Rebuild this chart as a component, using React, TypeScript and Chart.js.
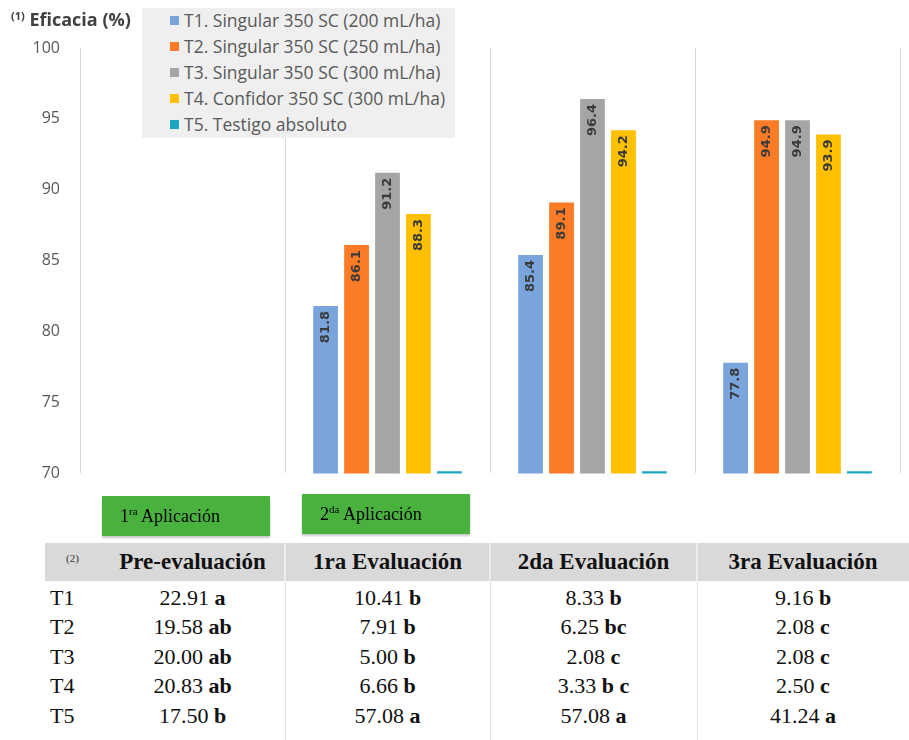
import React, { useEffect, useRef } from "react";
import { Chart, registerables } from "chart.js";

Chart.register(...registerables);

const categories = ["Pre-evaluación", "1ra Evaluación", "2da Evaluación", "3ra Evaluación"];
const seriesLabels = [
  "T1. Singular 350 SC (200 mL/ha)",
  "T2. Singular 350 SC (250 mL/ha)",
  "T3. Singular 350 SC (300 mL/ha)",
  "T4. Confidor 350 SC (300 mL/ha)",
  "T5. Testigo absoluto",
];
const seriesColors = ["#7aa5dc", "#fb7b26", "#a5a5a5", "#ffc000", "#1aa5c0"];
const t1 = [null, 81.8, 85.4, 77.8];
const t2 = [null, 86.1, 89.1, 94.9];
const t3 = [null, 91.2, 96.4, 94.9];
const t4 = [null, 88.3, 94.2, 93.9];
const t5 = [null, 70.15, 70.15, 70.15];
const showLabels = [true, true, true, true, false];
const yTicks = [70, 75, 80, 85, 90, 95, 100];

const applications = ["ra", "da"];
const tableRowLabels = ["T1", "T2", "T3", "T4", "T5"];
const preNums = [22.91, 19.58, 20.0, 20.83, 17.5];
const preLetters = ["a", "ab", "ab", "ab", "b"];
const ev1Nums = [10.41, 7.91, 5.0, 6.66, 57.08];
const ev1Letters = ["b", "b", "b", "b", "a"];
const ev2Nums = [8.33, 6.25, 2.08, 3.33, 57.08];
const ev2Letters = ["b", "bc", "c", "b c", "a"];
const ev3Nums = [9.16, 2.08, 2.08, 2.5, 41.24];
const ev3Letters = ["b", "c", "c", "c", "a"];

const tableCols = [
  { nums: preNums, letters: preLetters },
  { nums: ev1Nums, letters: ev1Letters },
  { nums: ev2Nums, letters: ev2Letters },
  { nums: ev3Nums, letters: ev3Letters },
];

const colEdges = [45, 100, 285, 490, 697, 909];

const labelPlugin = {
  id: "vlabels",
  afterDatasetsDraw(chart: any) {
    const ctx = chart.ctx;
    chart.data.datasets.forEach((ds: any, di: number) => {
      if (!showLabels[di]) return;
      const meta = chart.getDatasetMeta(di);
      meta.data.forEach((bar: any, i: number) => {
        const v = ds.data[i];
        if (v == null) return;
        ctx.save();
        ctx.translate(bar.x, bar.y + 5);
        ctx.rotate(-Math.PI / 2);
        ctx.textAlign = "right";
        ctx.textBaseline = "middle";
        ctx.font = 'bold 13px "DejaVu Sans"';
        ctx.fillStyle = "#3a3a3a";
        ctx.fillText(v.toFixed(1), 0, 0);
        ctx.restore();
      });
    });
  },
};

export default function App() {
  const ref = useRef<HTMLCanvasElement | null>(null);
  useEffect(() => {
    if (!ref.current) return;
    const values = [t1, t2, t3, t4, t5];
    const chart = new Chart(ref.current, {
      type: "bar",
      data: {
        labels: categories,
        datasets: values.map((d, i) => ({
          label: seriesLabels[i],
          data: d,
          backgroundColor: seriesColors[i],
          categoryPercentage: 0.755,
          barPercentage: 0.8,
        })),
      },
      options: {
        responsive: false,
        animation: false,
        layout: { padding: { top: 48, right: 9, bottom: 18, left: 0 } },
        plugins: { legend: { display: false }, tooltip: { enabled: false } },
        scales: {
          x: {
            offset: true,
            grid: { display: true, offset: true, color: "#d9d9d9", drawTicks: false },
            ticks: { display: false },
            border: { display: false },
            afterFit: (s: any) => {
              s.height = 0;
            },
          },
          y: {
            min: 70,
            max: 100,
            afterBuildTicks: (s: any) => {
              s.ticks = yTicks.map((v) => ({ value: v }));
            },
            afterFit: (s: any) => {
              s.width = 80;
            },
            grid: { display: false, drawTicks: false },
            border: { display: false },
            ticks: {
              color: "#595959",
              padding: 20,
              font: { family: "Open Sans", size: 16 },
            },
          },
        },
      },
      plugins: [labelPlugin],
    });
    return () => chart.destroy();
  }, []);

  const serif = '"Liberation Serif", "Times New Roman", serif';

  return (
    <div style={{ position: "absolute", left: 0, top: 0, width: 909, height: 740, background: "#fff", overflow: "hidden" }}>
      <canvas ref={ref} width={909} height={503} style={{ position: "absolute", left: 0, top: 0, width: 909, height: 503 }} />
      {/* Title */}
      <div style={{ position: "absolute", left: 11, top: 7, fontFamily: "Open Sans", fontWeight: 700, fontSize: 18, color: "#404040", whiteSpace: "nowrap" }}>
        <span style={{ fontSize: 11, position: "relative", top: -6 }}>(1)</span> Eficacia (%)
      </div>
      {/* Legend */}
      <div style={{ position: "absolute", left: 142, top: 8, width: 313, height: 130, background: "#efefef" }}>
        {seriesLabels.map((l, i) => (
          <div key={l} style={{ position: "absolute", left: 28, top: 0 + i * 26, height: 24, display: "flex", alignItems: "center", whiteSpace: "nowrap", fontFamily: "Open Sans", fontSize: 17.5, color: "#595959" }}>
            <span style={{ display: "inline-block", width: 9, height: 9, background: seriesColors[i], marginRight: 5 }} />
            {l}
          </div>
        ))}
      </div>
      {/* Application boxes */}
      {applications.map((sup, i) => (
        <div key={sup} style={{ position: "absolute", left: 102 + i * 200, top: 496 - i * 2, width: 168, height: 40, background: "#49b23f", boxShadow: "0 2px 2px #c8c8c8", fontFamily: serif, fontSize: 18, color: "#000", display: "flex", alignItems: "center", paddingLeft: 18, boxSizing: "border-box", whiteSpace: "nowrap" }}>
          <span>
            {i + 1}
            <sup style={{ fontSize: 11 }}>{sup}</sup> Aplicación
          </span>
        </div>
      ))}
      {/* Table header */}
      <div style={{ position: "absolute", left: colEdges[0], top: 543, width: colEdges[5] - colEdges[0], height: 38, background: "#d9d9d9" }} />
      {[2, 3, 4].map((k) => (
        <div key={"hs" + k} style={{ position: "absolute", left: colEdges[k] - 1, top: 543, width: 2, height: 38, background: "#ececec" }} />
      ))}
      {[2, 3, 4].map((k) => (
        <div key={"bs" + k} style={{ position: "absolute", left: colEdges[k], top: 581, width: 1, height: 159, background: "#e3e3e3" }} />
      ))}
      <div style={{ position: "absolute", left: colEdges[0], top: 543, width: colEdges[1] - colEdges[0], height: 38, display: "flex", alignItems: "center", justifyContent: "center", fontFamily: serif, fontSize: 11, color: "#333" }}>
        <span style={{ position: "relative", top: -4 }}>(2)</span>
      </div>
      {categories.map((c, k) => (
        <div key={c} style={{ position: "absolute", left: colEdges[k + 1], top: 543, width: colEdges[k + 2] - colEdges[k + 1], height: 38, display: "flex", alignItems: "center", justifyContent: "center", fontFamily: serif, fontWeight: 700, fontSize: 23, color: "#111", whiteSpace: "nowrap" }}>
          {c}
        </div>
      ))}
      {/* Table body */}
      {tableRowLabels.map((r, ri) => (
        <React.Fragment key={r}>
          <div style={{ position: "absolute", left: 50, top: 583 + ri * 29.5, height: 29.5, display: "flex", alignItems: "center", fontFamily: serif, fontSize: 22, color: "#111" }}>{r}</div>
          {tableCols.map((col, k) => (
            <div key={k} style={{ position: "absolute", left: colEdges[k + 1], top: 583 + ri * 29.5, width: colEdges[k + 2] - colEdges[k + 1], height: 29.5, display: "flex", alignItems: "center", justifyContent: "center", fontFamily: serif, fontSize: 22, color: "#111", whiteSpace: "pre" }}>
              {col.nums[ri].toFixed(2)} <b>{col.letters[ri]}</b>
            </div>
          ))}
        </React.Fragment>
      ))}
    </div>
  );
}
